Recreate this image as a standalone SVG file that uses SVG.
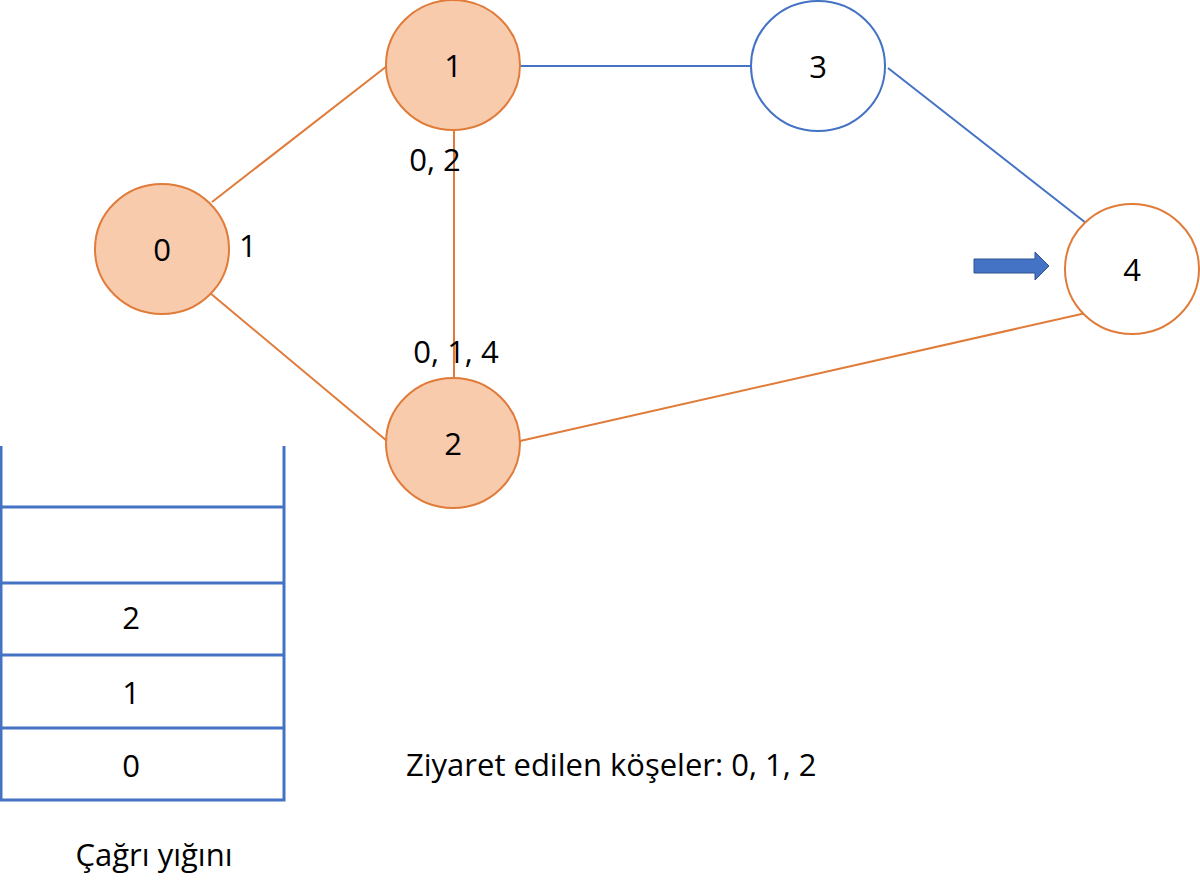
<svg xmlns="http://www.w3.org/2000/svg" width="1200" height="896" viewBox="0 0 1200 896">
<style>
  .t { font-family: "Open Sans", "Liberation Sans", sans-serif; font-size: 31px; fill: #000; }
  .c { text-anchor: middle; }
  .eo { stroke: #E07B39; stroke-width: 2; fill: none; }
  .eb { stroke: #4472C4; stroke-width: 2; fill: none; }
  .visited { fill: #F8CBAD; stroke: #E07B39; stroke-width: 2; }
  .open { fill: #FFFFFF; stroke-width: 2; }
  .stack { stroke: #4472C4; stroke-width: 3; fill: none; }
</style>
<rect width="1200" height="896" fill="#FFFFFF"/>
<g id="connectors">
  <line class="eo" x1="212" y1="202" x2="387" y2="66"/>
  <line class="eo" x1="210" y1="293" x2="387" y2="441"/>
  <line class="eb" x1="520" y1="66" x2="751" y2="66"/>
  <line class="eo" x1="454" y1="130" x2="454" y2="377"/>
  <line class="eb" x1="888" y1="68" x2="1086" y2="223"/>
  <line class="eo" x1="520" y1="441" x2="1086" y2="313"/>
</g>
<g id="node0">
  <ellipse class="visited" cx="162" cy="249" rx="67" ry="65"/>
  <text class="t c" x="162" y="261">0</text>
</g>
<g id="node1">
  <ellipse class="visited" cx="453" cy="65" rx="67" ry="65"/>
  <text class="t c" x="453" y="77">1</text>
</g>
<g id="node2">
  <ellipse class="visited" cx="453" cy="443" rx="67" ry="65"/>
  <text class="t c" x="453" y="455">2</text>
</g>
<g id="node3">
  <ellipse class="open" stroke="#4472C4" cx="818" cy="66" rx="67" ry="65"/>
  <text class="t c" x="818" y="78">3</text>
</g>
<g id="node4">
  <ellipse class="open" stroke="#E07B39" cx="1132" cy="269" rx="67" ry="65"/>
  <text class="t c" x="1132" y="281">4</text>
</g>
<g id="labels">
  <text class="t" x="239" y="257">1</text>
  <text class="t c" x="435" y="171">0, 2</text>
  <text class="t c" x="456" y="363">0, 1, 4</text>
</g>
<g id="pointer">
  <polygon points="974,259 1035,259 1035,252 1049,266 1035,280 1035,273 974,273" fill="#4472C4" stroke="#2F528F" stroke-width="1"/>
</g>
<g id="callstack">
  <polyline class="stack" points="1,446 1,800 284,800 284,446"/>
  <line class="stack" x1="0" y1="507" x2="284" y2="507"/>
  <line class="stack" x1="0" y1="583" x2="284" y2="583"/>
  <line class="stack" x1="0" y1="655" x2="284" y2="655"/>
  <line class="stack" x1="0" y1="728" x2="284" y2="728"/>
  <text class="t c" x="131" y="629">2</text>
  <text class="t c" x="131" y="704">1</text>
  <text class="t c" x="131" y="777">0</text>
  <text class="t c" x="154" y="866">Çağrı yığını</text>
</g>
<g id="visited">
  <text class="t" x="406" y="776">Ziyaret edilen köşeler: 0, 1, 2</text>
</g>
</svg>
